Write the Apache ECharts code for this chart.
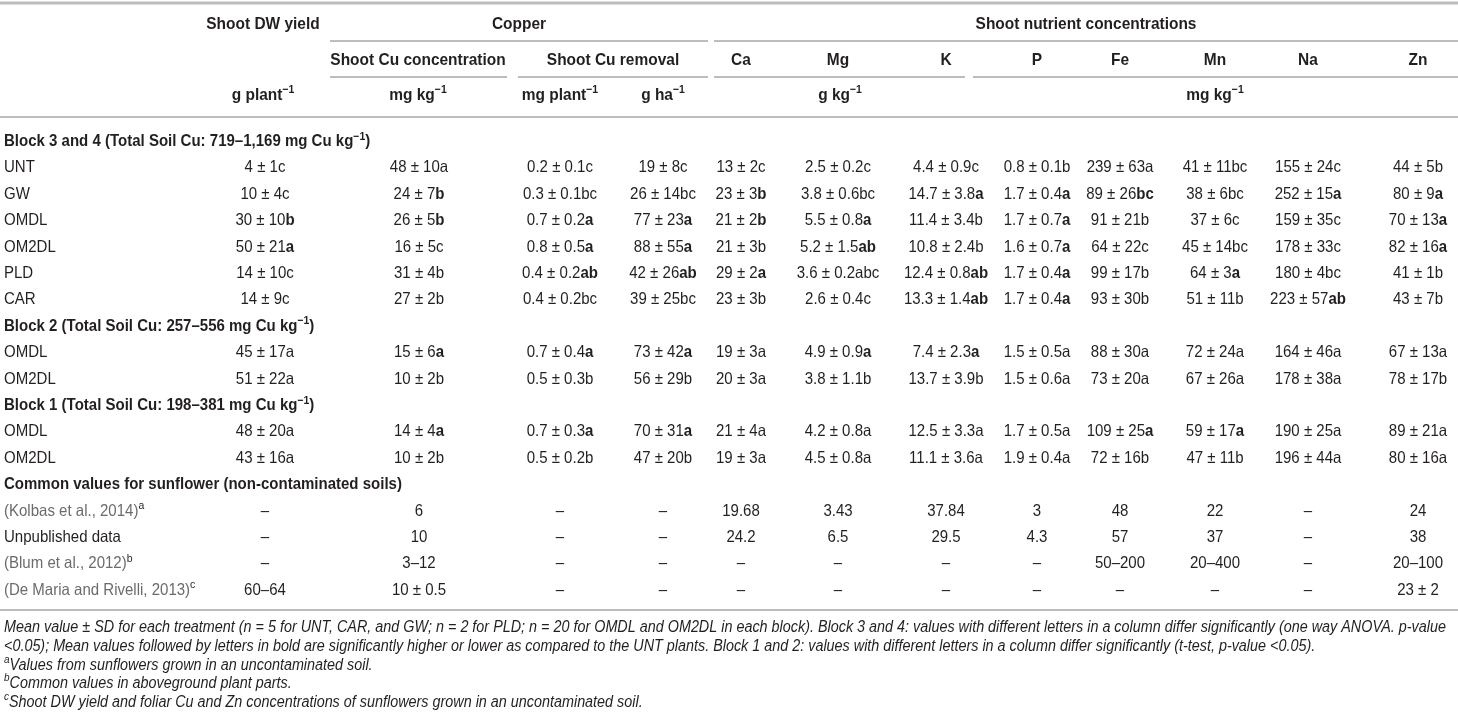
<!DOCTYPE html>
<html>
<head>
<meta charset="utf-8">
<script src="https://cdn.jsdelivr.net/npm/echarts@6/dist/echarts.min.js"></script>
<style>
html, body { margin: 0; padding: 0; background: #fff; }
#table { width: 1458px; height: 718px; }
</style>
</head>
<body>
<div id="table"></div>
<script>
// ---- table data ----
var groupHeaders = ['Shoot DW yield', 'Copper', 'Shoot nutrient concentrations'];
var subHeaders = ['Shoot Cu concentration', 'Shoot Cu removal', 'Ca', 'Mg', 'K', 'P', 'Fe', 'Mn', 'Na', 'Zn'];
var unitHeaders = ['g plant^{−1}', 'mg kg^{−1}', 'mg plant^{−1}', 'g ha^{−1}', 'g kg^{−1}', 'mg kg^{−1}'];

var blockTitles = [
    'Block 3 and 4 (Total Soil Cu: 719–1,169 mg Cu kg^{−1})',
    'Block 2 (Total Soil Cu: 257–556 mg Cu kg^{−1})',
    'Block 1 (Total Soil Cu: 198–381 mg Cu kg^{−1})',
    'Common values for sunflower (non-contaminated soils)'
];

var block34Names = ['UNT', 'GW', 'OMDL', 'OM2DL', 'PLD', 'CAR'];
var block34Values = [
    ['4 ± 1c', '48 ± 10a', '0.2 ± 0.1c', '19 ± 8c', '13 ± 2c', '2.5 ± 0.2c', '4.4 ± 0.9c', '0.8 ± 0.1b', '239 ± 63a', '41 ± 11bc', '155 ± 24c', '44 ± 5b'],
    ['10 ± 4c', '24 ± 7**b**', '0.3 ± 0.1bc', '26 ± 14bc', '23 ± 3**b**', '3.8 ± 0.6bc', '14.7 ± 3.8**a**', '1.7 ± 0.4**a**', '89 ± 26**bc**', '38 ± 6bc', '252 ± 15**a**', '80 ± 9**a**'],
    ['30 ± 10**b**', '26 ± 5**b**', '0.7 ± 0.2**a**', '77 ± 23**a**', '21 ± 2**b**', '5.5 ± 0.8**a**', '11.4 ± 3.4b', '1.7 ± 0.7**a**', '91 ± 21b', '37 ± 6c', '159 ± 35c', '70 ± 13**a**'],
    ['50 ± 21**a**', '16 ± 5c', '0.8 ± 0.5**a**', '88 ± 55**a**', '21 ± 3b', '5.2 ± 1.5**ab**', '10.8 ± 2.4b', '1.6 ± 0.7**a**', '64 ± 22c', '45 ± 14bc', '178 ± 33c', '82 ± 16**a**'],
    ['14 ± 10c', '31 ± 4b', '0.4 ± 0.2**ab**', '42 ± 26**ab**', '29 ± 2**a**', '3.6 ± 0.2abc', '12.4 ± 0.8**ab**', '1.7 ± 0.4**a**', '99 ± 17b', '64 ± 3**a**', '180 ± 4bc', '41 ± 1b'],
    ['14 ± 9c', '27 ± 2b', '0.4 ± 0.2bc', '39 ± 25bc', '23 ± 3b', '2.6 ± 0.4c', '13.3 ± 1.4**ab**', '1.7 ± 0.4**a**', '93 ± 30b', '51 ± 11b', '223 ± 57**ab**', '43 ± 7b']
];

var block2Names = ['OMDL', 'OM2DL'];
var block2Values = [
    ['45 ± 17a', '15 ± 6**a**', '0.7 ± 0.4**a**', '73 ± 42**a**', '19 ± 3a', '4.9 ± 0.9**a**', '7.4 ± 2.3**a**', '1.5 ± 0.5a', '88 ± 30a', '72 ± 24a', '164 ± 46a', '67 ± 13a'],
    ['51 ± 22a', '10 ± 2b', '0.5 ± 0.3b', '56 ± 29b', '20 ± 3a', '3.8 ± 1.1b', '13.7 ± 3.9b', '1.5 ± 0.6a', '73 ± 20a', '67 ± 26a', '178 ± 38a', '78 ± 17b']
];

var block1Names = ['OMDL', 'OM2DL'];
var block1Values = [
    ['48 ± 20a', '14 ± 4**a**', '0.7 ± 0.3**a**', '70 ± 31**a**', '21 ± 4a', '4.2 ± 0.8a', '12.5 ± 3.3a', '1.7 ± 0.5a', '109 ± 25**a**', '59 ± 17**a**', '190 ± 25a', '89 ± 21a'],
    ['43 ± 16a', '10 ± 2b', '0.5 ± 0.2b', '47 ± 20b', '19 ± 3a', '4.5 ± 0.8a', '11.1 ± 3.6a', '1.9 ± 0.4a', '72 ± 16b', '47 ± 11b', '196 ± 44a', '80 ± 16a']
];

// "~" marks a citation (drawn grey)
var commonNames = ['~(Kolbas et al., 2014)^{a}', 'Unpublished data', '~(Blum et al., 2012)^{b}', '~(De Maria and Rivelli, 2013)^{c}'];
var commonValues = [
    ['–', '6', '–', '–', '19.68', '3.43', '37.84', '3', '48', '22', '–', '24'],
    ['–', '10', '–', '–', '24.2', '6.5', '29.5', '4.3', '57', '37', '–', '38'],
    ['–', '3–12', '–', '–', '–', '–', '–', '–', '50–200', '20–400', '–', '20–100'],
    ['60–64', '10 ± 0.5', '–', '–', '–', '–', '–', '–', '–', '–', '–', '23 ± 2']
];

var footnotes = [
    'Mean value ± SD for each treatment (n = 5 for UNT, CAR, and GW; n = 2 for PLD; n = 20 for OMDL and OM2DL in each block). Block 3 and 4: values with different letters in a column differ significantly (one way ANOVA. p-value',
    '<0.05); Mean values followed by letters in bold are significantly higher or lower as compared to the UNT plants. Block 1 and 2: values with different letters in a column differ significantly (t-test, p-value <0.05).',
    '^{a}Values from sunflowers grown in an uncontaminated soil.',
    '^{b}Common values in aboveground plant parts.',
    '^{c}Shoot DW yield and foliar Cu and Zn concentrations of sunflowers grown in an uncontaminated soil.'
];

// ---- layout (px) ----
var FONT = "'Liberation Sans', Arial, sans-serif";
var SQUEEZE = 0.91;   // condensed look
var colCenter = [4, 265, 419, 560, 663, 741, 838, 946, 1037, 1120, 1215, 1308, 1418];
var ink = '#231f20';
var citeInk = '#6b6b6b';
var ruleColor = '#bdbdbd';

var richStyles = (function () {
    function s(size, weight, italic, sup, color) {
        return {
            fontFamily: FONT, fontSize: size, fontWeight: weight,
            fontStyle: italic ? 'italic' : 'normal', fill: color || ink,
            lineHeight: sup ? 12 : 22, verticalAlign: sup ? 'top' : 'middle'
        };
    }
    return {
        n: s(16.5, 'normal'), ns: s(11.5, 'normal', false, true),
        g: s(16.5, 'normal', false, false, citeInk), gs: s(11.5, 'normal', false, true),
        b: s(16.5, 'bold'), bs: s(11.5, 'bold', false, true),
        h: s(17, 'bold'), hs: s(11.5, 'bold', false, true),
        i: s(15.8, 'normal', true), is: s(11, 'normal', true, true)
    };
})();

// "**x**" = bold letters, "^{x}" = superscript
function toRich(str, base) {
    if (str.charAt(0) === '~') { str = str.slice(1); base = 'g'; }
    var out = '', re = /\*\*(.+?)\*\*|\^\{(.+?)\}/g, last = 0, m;
    while ((m = re.exec(str))) {
        if (m.index > last) out += '{' + base + '|' + str.slice(last, m.index) + '}';
        if (m[1]) out += '{b|' + m[1] + '}';
        else out += '{' + base + 's|' + m[2] + '}';
        last = re.lastIndex;
    }
    if (last < str.length) out += '{' + base + '|' + str.slice(last) + '}';
    return out;
}

// ---- body rows ----
var bodyRows = [];
function addBlock(title, names, values) {
    bodyRows.push({ title: title });
    names.forEach(function (n, i) { bodyRows.push({ label: n, values: values[i] }); });
}
addBlock(blockTitles[0], block34Names, block34Values);
addBlock(blockTitles[1], block2Names, block2Values);
addBlock(blockTitles[2], block1Names, block1Values);
addBlock(blockTitles[3], commonNames, commonValues);

var cellData = [], cellInfo = [];
bodyRows.forEach(function (row, r) {
    if (row.title) {
        cellData.push([colCenter[0], r]);
        cellInfo.push({ text: toRich(row.title, 'b'), align: 'left' });
        return;
    }
    cellData.push([colCenter[0], r]);
    cellInfo.push({ text: toRich(row.label, 'n'), align: 'left' });
    row.values.forEach(function (v, c) {
        cellData.push([colCenter[c + 1], r]);
        cellInfo.push({ text: toRich(v, 'n'), align: 'center' });
    });
});

// ---- header, rules, footnotes ----
function txt(x, y, s, align, base) {
    return { type: 'text', x: x, y: y, scaleX: SQUEEZE, silent: true,
        style: { text: toRich(s, base), rich: richStyles, align: align, verticalAlign: 'middle' } };
}
function rule(x1, x2, y, w) {
    return { type: 'line', silent: true, shape: { x1: x1, y1: y, x2: x2, y2: y },
        style: { stroke: ruleColor, lineWidth: w || 2 } };
}

var headerItems = [
    rule(0, 1458, 3, 3),
    txt(263, 24, groupHeaders[0], 'center', 'h'),
    txt(519, 24, groupHeaders[1], 'center', 'h'),
    txt(1086, 24, groupHeaders[2], 'center', 'h'),
    rule(330, 708, 41), rule(714, 1458, 41),
    txt(418, 60, subHeaders[0], 'center', 'h'),
    txt(613, 60, subHeaders[1], 'center', 'h'),
    rule(330, 507, 77), rule(518, 708, 77), rule(714, 965, 77), rule(973, 1458, 77),
    txt(263, 95, unitHeaders[0], 'center', 'h'),
    txt(418, 95, unitHeaders[1], 'center', 'h'),
    txt(560, 95, unitHeaders[2], 'center', 'h'),
    txt(663, 95, unitHeaders[3], 'center', 'h'),
    txt(840, 95, unitHeaders[4], 'center', 'h'),
    txt(1215, 95, unitHeaders[5], 'center', 'h'),
    rule(0, 1458, 117),
    rule(0, 1458, 610)
];
subHeaders.slice(2).forEach(function (s, i) {
    headerItems.push(txt(colCenter[i + 5], 60, s, 'center', 'h'));
});
footnotes.forEach(function (s, i) {
    headerItems.push(txt(4, 628 + i * 18.6, s, 'left', 'i'));
});

var chart = echarts.init(document.getElementById('table'));
var option = {
    backgroundColor: '#fff',
    animation: false,
    grid: { left: 0, right: 0, top: 128.3, height: 475.2 },
    xAxis: { type: 'value', min: 0, max: 1458, show: false },
    yAxis: {
        type: 'category', inverse: true, show: false,
        data: bodyRows.map(function (r, i) { return 'r' + i; })
    },
    graphic: headerItems,
    series: [{
        type: 'custom',
        clip: false,
        encode: { x: 0, y: 1 },
        data: cellData,
        renderItem: function (params, api) {
            var p = api.coord([api.value(0), api.value(1)]);
            var info = cellInfo[params.dataIndex];
            return {
                type: 'text', x: p[0], y: p[1], scaleX: SQUEEZE,
                style: { text: info.text, rich: richStyles, align: info.align, verticalAlign: 'middle' }
            };
        }
    }]
};
chart.setOption(option);
</script>
</body>
</html>
